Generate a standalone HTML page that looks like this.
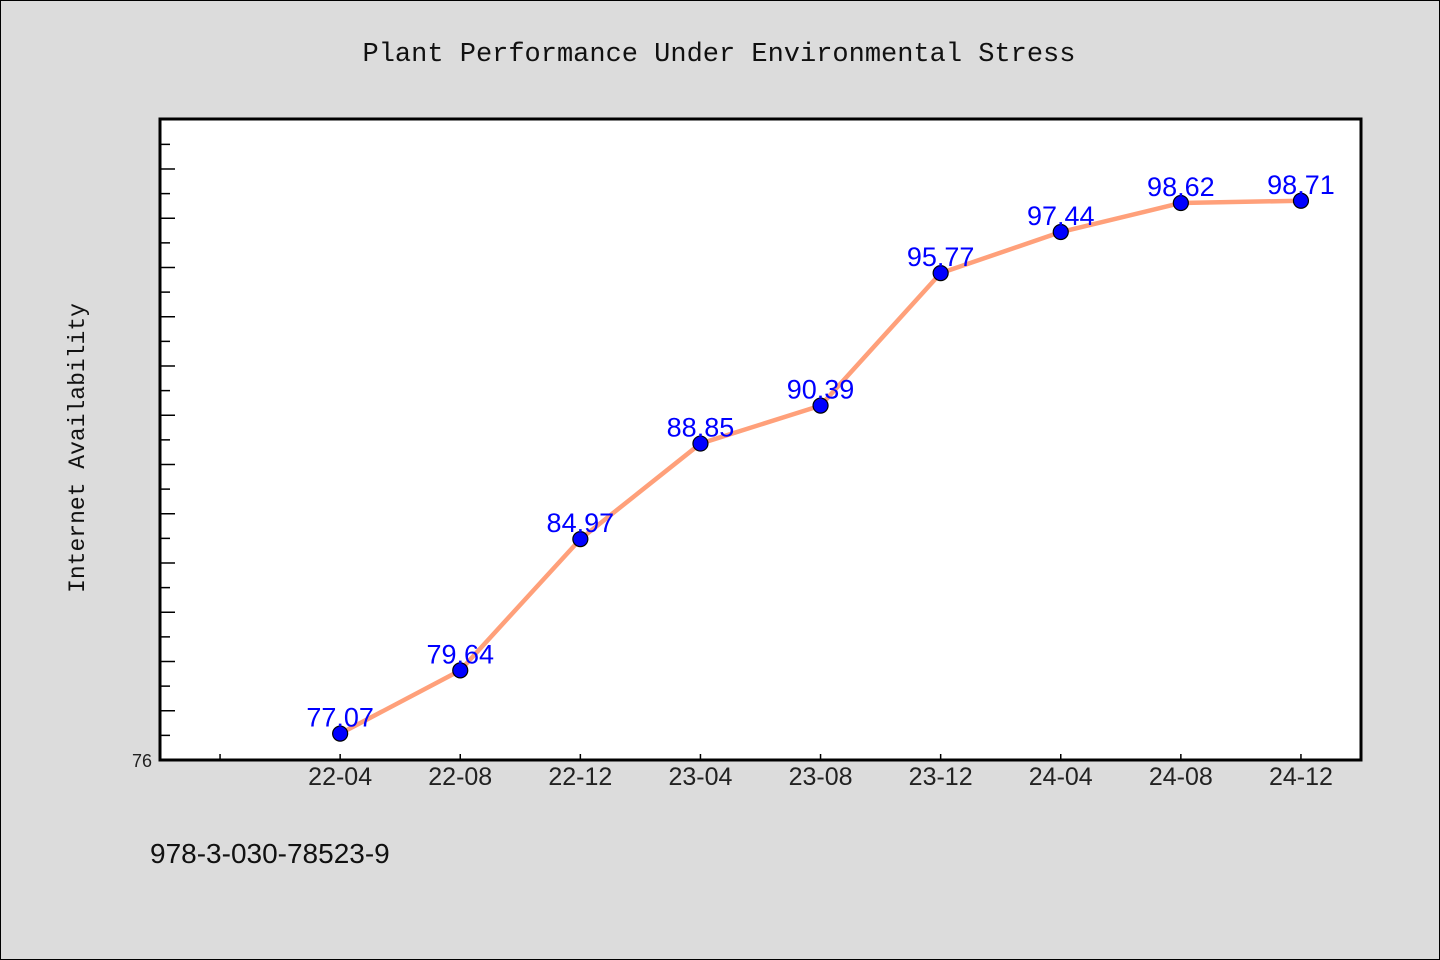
<!DOCTYPE html>
<html><head><meta charset="utf-8"><style>
html,body{margin:0;padding:0;background:#dcdcdc;}
svg{display:block;}
</style></head><body>
<svg id="chart" width="1440" height="960" xmlns="http://www.w3.org/2000/svg">
<rect x="0.5" y="0.5" width="1439" height="959" fill="#dcdcdc" stroke="#000" stroke-width="1"/>
<text x="719" y="61" text-anchor="middle" font-family="'Liberation Mono', monospace" font-size="27" fill="#111">Plant Performance Under Environmental Stress</text>
<rect x="160" y="119" width="1201" height="641" fill="#fff"/>
<g id="ticks"></g>
<g id="series"></g>
<rect x="160" y="119" width="1201" height="641" fill="none" stroke="#000" stroke-width="3"/>
<text transform="translate(84,448) rotate(-90)" text-anchor="middle" font-family="'Liberation Mono', monospace" font-size="23" fill="#111">Internet Availability</text>
<text x="150" y="863" font-family="'Liberation Sans', sans-serif" font-size="28" fill="#111">978-3-030-78523-9</text>
</svg>
<script>
const categories = ["22-04","22-08","22-12","23-04","23-08","23-12","24-04","24-08","24-12"];
const values = [77.07,79.64,84.97,88.85,90.39,95.77,97.44,98.62,98.71];
const yMin = 76, yMax = 102.03;
const NS = "http://www.w3.org/2000/svg";
const L=160,R=1361,T=119,B=760;
function x(i){return L + (i+1.5)*(R-L)/(categories.length+1);}
function y(v){return B - (v-yMin)/(yMax-yMin)*(B-T);}
function mk(tag,attrs,parent){const e=document.createElementNS(NS,tag);for(const k in attrs)e.setAttribute(k,attrs[k]);parent.appendChild(e);return e;}
const tk=document.getElementById('ticks'), sg=document.getElementById('series');
for(let v=yMin+1; v<yMax; v++){
  const len=(v%2===0)?15:10;
  const t=mk('line',{x1:L,x2:L+len,y1:y(v),y2:y(v),stroke:'#000','stroke-width':1.5},tk);
  
  
}
const yl=mk('text',{x:152,y:B+7,'text-anchor':'end','font-family':"'Liberation Sans', sans-serif",'font-size':18,fill:'#222'},tk);
yl.textContent=String(yMin);


for(let i=-1;i<categories.length;i++){
  const t=mk('line',{x1:x(i),x2:x(i),y1:B,y2:B-6,stroke:'#000','stroke-width':1.5},tk);
  
  
  if(i>=0){
    const l=mk('text',{x:x(i),y:B+25,'text-anchor':'middle','font-family':"'Liberation Sans', sans-serif",'font-size':25,fill:'#222'},tk);
    l.textContent=categories[i];
    
    
  }
}
const pl=mk('polyline',{points:values.map((v,i)=>x(i)+','+y(v)).join(' '),fill:'none',stroke:'#ffa07a','stroke-width':4.5,'stroke-linejoin':'round'},sg);


values.forEach((v,i)=>{
  const c=mk('circle',{cx:x(i),cy:y(v),r:7.5,fill:'#0000ff',stroke:'#000','stroke-width':1.2},sg);
  
  
});
values.forEach((v,i)=>{
  const t=mk('text',{x:x(i),y:y(v)-7,'text-anchor':'middle','font-family':"'Liberation Sans', sans-serif",'font-size':27,fill:'#0000ff'},sg);
  t.textContent=v.toFixed(2);
  
  
});
</script>
</body></html>
